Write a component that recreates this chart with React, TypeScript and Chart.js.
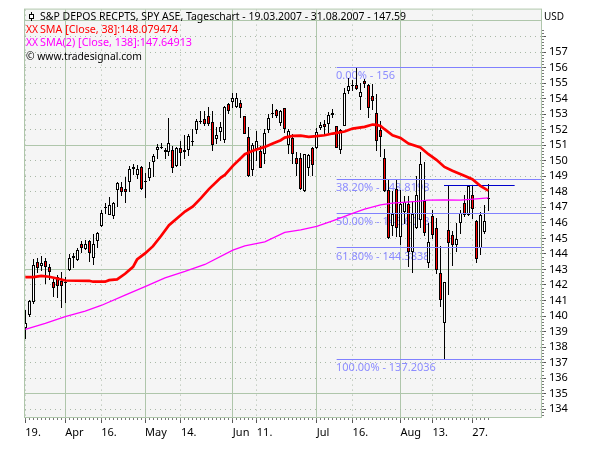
import React, { useEffect, useRef } from "react";
import { Chart, registerables } from "chart.js";

Chart.register(...registerables);

const opens = [139.2,140.06,140.92,143.45,143.24,143.54,143.13,142.16,142.53,142.25,142.15,142.96,143.71,143.6,144.67,144.31,144.82,143.71,144.84,145.81,146.93,146.52,146.46,148.13,148.32,148.21,148.66,149.46,149.07,149.61,148.65,148.88,149.89,150.68,150.85,150.53,150.57,150.68,149.67,150.81,150.68,150.7,151.26,151.96,152.5,152.67,152.86,152.5,151.43,151.88,151.34,153.64,153.81,153.47,153.72,152.86,151.54,149.41,150.74,150.64,150.42,151.96,153.02,153.25,152.46,153.42,151.02,151.45,150.16,150.16,148.06,149.56,150.85,150.79,152.09,152.35,152.35,153.1,152.22,150.68,152.26,154.49,154.84,154.88,154.13,155.14,154.88,154.17,153.06,151.99,150.16,148.11,145.8,148.17,145.1,146.67,147.2,144.14,145.7,146.2,147.42,143.4,146.46,145.7,142.74,139.57,145.53,145.2,144.55,145.99,147.3,146.48,147.81,146.13,144.38,145.38,147.55];
const highs = [140.38,141.03,143.66,143.71,143.88,143.71,143.34,142.38,142.64,142.81,142.53,144.0,144.03,144.41,144.84,144.89,144.91,145.3,145.42,146.82,147.31,147.68,147.36,148.6,148.6,148.92,149.63,149.78,149.71,149.67,149.2,149.95,150.46,151.1,151.17,150.85,152.74,150.96,150.89,151.28,151.66,151.71,152.03,152.67,153.2,153.2,153.47,153.21,152.18,152.52,153.53,153.74,154.34,154.34,153.89,152.89,152.18,151.13,151.92,150.96,152.03,153.04,153.64,153.32,153.25,153.42,152.03,151.71,150.53,150.5,150.42,150.42,150.89,152.09,152.5,152.61,153.14,153.32,152.26,152.03,154.71,155.35,155.18,155.97,155.03,155.29,154.97,154.92,154.28,152.56,150.74,148.81,148.06,148.8,148.1,147.74,147.7,147.42,149.03,150.53,149.95,146.0,146.8,146.3,144.5,142.2,148.36,145.47,146.0,146.8,147.77,148.42,148.41,146.2,146.7,147.14,148.48];
const lows = [138.52,139.96,140.77,142.74,142.9,142.04,142.31,141.24,141.18,140.53,140.86,142.91,143.11,143.54,144.09,144.24,143.49,143.28,144.35,145.75,146.56,146.52,146.28,146.99,147.74,147.25,147.96,149.07,148.81,148.13,147.57,148.71,148.96,150.14,150.74,150.1,150.31,149.24,149.61,149.67,150.1,150.31,150.96,151.71,152.35,152.25,152.24,150.64,151.06,151.28,151.17,153.0,153.42,153.42,152.78,151.71,148.98,149.03,149.99,149.5,149.78,151.81,152.78,152.78,152.25,151.81,150.46,149.78,149.03,148.1,148.0,149.03,149.03,150.74,151.96,151.56,151.81,152.74,150.81,150.46,152.22,154.32,154.5,154.54,153.25,154.67,152.78,153.25,150.64,150.21,147.96,144.95,145.17,145.1,144.56,145.92,143.17,142.79,145.6,145.7,145.17,143.1,144.95,142.7,140.6,137.2,141.35,143.21,144.14,145.26,146.37,146.42,146.27,143.43,143.92,145.3,146.76];
const closes = [139.57,140.96,143.28,143.11,143.41,143.17,142.85,141.82,141.95,141.95,142.2,143.71,143.86,144.24,144.39,144.61,144.03,144.67,145.32,146.63,146.99,147.16,147.27,148.56,148.0,148.0,149.46,149.59,149.46,148.17,148.7,149.52,150.31,150.89,150.87,150.68,151.13,149.52,150.81,150.49,150.53,151.6,151.3,152.56,152.55,152.35,152.35,151.0,151.64,152.18,153.47,153.21,154.02,154.02,153.42,151.75,149.03,151.02,151.3,149.56,151.81,152.78,153.06,152.86,153.21,152.03,151.92,150.46,149.78,148.21,150.42,150.38,149.74,151.88,152.31,152.14,152.93,152.95,150.85,151.96,154.34,154.82,154.88,154.64,154.43,154.97,153.42,153.85,151.24,151.54,148.02,145.02,146.6,145.7,147.2,147.36,144.14,146.56,147.78,149.78,145.32,144.77,145.2,142.96,141.03,142.16,144.71,144.56,144.94,146.63,146.53,148.37,146.91,143.7,146.5,146.13,147.59];

const sma38Days = [0,2,4,6,8,10,16,17,20,21,23,25,27,28,30,32,34,36,40,42,44,46,49,50,52,55,57,60,62,64,65,67,69,71,73,75,77,80,82,85,87,88,89,90,92,94,96,99,101,103,105,107,110,112,114,116];
const sma38Values = [142.51,142.51,142.59,142.53,142.42,142.29,142.27,142.21,142.21,142.31,142.36,142.72,143.17,143.64,144.03,144.5,145.15,145.85,146.73,147.06,147.59,148.17,148.92,149.09,149.67,150.42,150.64,150.89,151.11,151.32,151.49,151.6,151.62,151.54,151.58,151.64,151.75,151.88,152.07,152.18,152.33,152.31,152.24,152.03,151.64,151.47,151.11,150.85,150.42,150.06,149.6,149.35,149.03,148.81,148.38,148.08];
const sma138Days = [0,5,10,15,19,25,30,35,40,45,52,55,60,65,69,73,77,82,85,89,92,98,101,105,109,113,116];
const sma138Values = [139.14,139.53,139.96,140.32,140.68,141.35,141.89,142.46,142.87,143.32,144.24,144.52,144.78,145.38,145.55,145.77,146.13,146.61,146.88,147.16,147.27,147.38,147.46,147.48,147.46,147.55,147.61];

const fibLevels = [156, 148.8198, 146.6018, 144.3838, 137.2036];
const fibLabels = ["0.00% - 156", "38.20% - 148.8198", "50.00% - 146.6018", "61.80% - 144.3838", "100.00% - 137.2036"];
const fibStartDay = 78;
const fibEndDay = 129.2;
const channelLevel = 148.42;
const channelDays = [104.9, 122.6];

const dateTickDays = [0, 10, 19, 30, 39, 52, 58, 73, 82, 94, 102, 112];
const dateTickLabels = ["19.", "Apr", "16.", "May", "14.", "Jun", "11.", "Jul", "16.", "Aug", "13.", "27."];
const monthDays = [10, 30, 52, 73, 94];
const majorPrices = [135, 143, 151, 159];
const priceTicks = [134,135,136,137,138,139,140,141,142,143,144,145,146,147,148,149,150,151,152,153,154,155,156,157,158,159];

const titleRows = [
  { x: 40, y: 17, w: 366, color: "#000000", text: "S&P DEPOS RECPTS, SPY ASE, Tageschart - 19.03.2007 - 31.08.2007 - 147.59" },
  { x: 40, y: 30, w: 138, color: "#ff0000", text: "SMA [Close, 38]:148.079474" },
  { x: 40, y: 43, w: 152, color: "#ff00ff", text: "SMA(2) [Close, 138]:147.64913" },
  { x: 26, y: 57, w: 116, color: "#000000", text: "© www.tradesignal.com" },
];

const FAMILY = '"Noto Sans", sans-serif';
const FONT = `11px ${FAMILY}`;
const GRID = "#afc6ab";
const DOT = "#a9b8a6";
const X_MIN = -0.075;
const X_MAX = 129.2;
const Y_MIN = 133.5;
const Y_MAX = 159.73;

const allDays = opens.map((_, i) => i);
const wicks = allDays.map((i) => ({ x: i, y: [lows[i], highs[i]] }));
const upBodies = allDays.filter((i) => closes[i] >= opens[i]).map((i) => ({ x: i, y: [opens[i], closes[i]] }));
const downBodies = allDays.filter((i) => closes[i] < opens[i]).map((i) => ({ x: i, y: [closes[i], opens[i]] }));

const snapPlugin = {
  id: "snap",
  afterDatasetsUpdate(chart: any) {
    chart.data.datasets.forEach((ds: any, idx: number) => {
      const meta = chart.getDatasetMeta(idx);
      if (meta.type === "bar") {
        meta.data.forEach((el: any) => {
          el.x = Math.floor(el.x) + 0.5;
          let top = Math.round(Math.min(el.y, el.base));
          let bottom = Math.round(Math.max(el.y, el.base));
          if (bottom === top) bottom = top + 1;
          el.y = top;
          el.base = bottom;
        });
      } else if (ds.flatLine) {
        meta.data.forEach((el: any) => {
          el.y = Math.floor(el.y) + 0.5;
        });
      }
    });
  },
};

const framePlugin = {
  id: "frame",
  beforeDraw(chart: any) {
    const { ctx, chartArea: a } = chart;
    ctx.save();
    ctx.fillStyle = "#ffffff";
    ctx.fillRect(0, 0, chart.width, chart.height);
    ctx.fillStyle = "#f5f5f5";
    ctx.fillRect(a.left, a.top, a.right - a.left, a.bottom - a.top);
    ctx.restore();
  },
  beforeDatasetsDraw(chart: any) {
    const { ctx, chartArea: a, scales } = chart;
    ctx.save();
    ctx.strokeStyle = GRID;
    ctx.lineWidth = 1;
    ctx.strokeRect(a.left - 0.5, a.top - 0.5, a.right - a.left + 1, a.bottom - a.top + 1);
    ctx.font = FONT;
    ctx.textBaseline = "middle";
    ctx.textAlign = "left";
    ctx.fillStyle = "#8c8cff";
    fibLevels.forEach((lvl, i) => {
      ctx.fillText(fibLabels[i], 336, scales.y.getPixelForValue(lvl) + 8.5);
    });
    ctx.restore();
  },
  afterDraw(chart: any) {
    const { ctx } = chart;
    ctx.save();
    ctx.font = FONT;
    ctx.textBaseline = "middle";
    ctx.textAlign = "left";
    titleRows.forEach((r) => {
      ctx.fillStyle = r.color;
      ctx.fillText(r.text, r.x, r.y, r.w);
    });
    ctx.fillStyle = "#ff0000";
    ctx.fillText("XX", 26, 30, 12);
    ctx.fillStyle = "#ff00ff";
    ctx.fillText("XX", 26, 43, 12);
    ctx.fillStyle = "#000000";
    ctx.fillText("USD", 544, 17, 20);
    ctx.strokeStyle = "#000000";
    ctx.lineWidth = 1;
    ctx.beginPath();
    ctx.moveTo(31.5, 12);
    ctx.lineTo(31.5, 21);
    ctx.stroke();
    ctx.fillStyle = "#ffffff";
    ctx.fillRect(29.5, 14.5, 4, 4);
    ctx.strokeRect(29.5, 14.5, 4, 4);
    ctx.restore();
  },
};

const bodyStyle = {
  type: "bar",
  barThickness: 3,
  borderWidth: 1,
  borderColor: "#000000",
  borderSkipped: false,
  inflateAmount: 0,
  grouped: false,
  order: 5,
};

export default function App() {
  const ref = useRef<HTMLCanvasElement | null>(null);
  useEffect(() => {
    const chart = new Chart(ref.current as any, {
      data: {
        datasets: [
          { type: "line", label: "SMA 38", data: sma38Days.map((d, i) => ({ x: d, y: sma38Values[i] })), borderColor: "#ff0000", borderWidth: 2.7, pointRadius: 0, tension: 0, order: 1 },
          { type: "line", label: "SMA 138", data: sma138Days.map((d, i) => ({ x: d, y: sma138Values[i] })), borderColor: "#ff00ff", borderWidth: 1.3, pointRadius: 0, tension: 0, order: 2 },
          ...fibLevels.map((lvl, i) => ({ type: "line", label: fibLabels[i], flatLine: true, data: [{ x: fibStartDay, y: lvl }, { x: fibEndDay, y: lvl }], borderColor: "#8080ff", borderWidth: 1, pointRadius: 0, order: 3 })),
          { type: "line", label: "Level", flatLine: true, data: channelDays.map((d) => ({ x: d, y: channelLevel })), borderColor: "#0000cc", borderWidth: 1, pointRadius: 0, order: 3 },
          { ...bodyStyle, label: "Up", data: upBodies, backgroundColor: "#ffffff" },
          { ...bodyStyle, label: "Down", data: downBodies, backgroundColor: "#ff0000" },
          { type: "bar", label: "High-Low", data: wicks, backgroundColor: "#000000", borderWidth: 0, barThickness: 1, inflateAmount: 0, grouped: false, order: 6 },
        ],
      } as any,
      options: {
        responsive: false,
        animation: false,
        devicePixelRatio: 1,
        layout: { padding: { left: 25, top: 9, right: 0, bottom: 0 } },
        plugins: { legend: { display: false }, tooltip: { enabled: false }, title: { display: false } },
        scales: {
          x: {
            type: "linear",
            position: "bottom",
            offset: false,
            min: X_MIN,
            max: X_MAX,
            weight: 0,
            afterBuildTicks: (s: any) => { s.ticks = dateTickDays.map((value) => ({ value })); },
            afterFit: (s: any) => { s.height = 33; },
            ticks: {
              autoSkip: false,
              maxRotation: 0,
              align: "start",
              padding: 3,
              color: "#000000",
              font: { family: FAMILY, size: 11 },
              callback: (v: any) => { const i = dateTickDays.indexOf(v); return i >= 0 ? dateTickLabels[i] : ""; },
            },
            grid: {
              offset: false,
              color: (c: any) => (monthDays.includes(c.tick?.value) ? GRID : DOT),
              lineWidth: 1,
              tickLength: 6,
              tickColor: "#555555",
            },
            border: {
              display: false,
              dash: (c: any) => (monthDays.includes(c.tick?.value) ? [] : [1, 4]),
            },
          },
          xMinor: {
            type: "linear",
            position: "bottom",
            offset: false,
            min: X_MIN,
            max: X_MAX,
            weight: -1,
            afterBuildTicks: (s: any) => { s.ticks = allDays.map((value) => ({ value })); },
            afterFit: (s: any) => { s.height = 0; },
            ticks: { autoSkip: false, maxRotation: 0, callback: () => "", padding: 0 },
            grid: { offset: false, drawOnChartArea: false, tickLength: 3, tickColor: "#777777" },
            border: { display: false },
          },
          y: {
            type: "linear",
            position: "right",
            min: Y_MIN,
            max: Y_MAX,
            weight: 0,
            afterBuildTicks: (s: any) => { s.ticks = priceTicks.map((value) => ({ value })); },
            afterFit: (s: any) => { s.width = 59; },
            ticks: {
              autoSkip: false,
              padding: 3,
              color: "#000000",
              font: { family: FAMILY, size: 11 },
              callback: (v: any) => (v <= 157 ? String(v) : ""),
            },
            grid: {
              color: (c: any) => (majorPrices.includes(c.tick?.value) ? GRID : DOT),
              lineWidth: 1,
              tickLength: 5,
              tickColor: (c: any) => (c.tick?.value > 158 ? "rgba(0,0,0,0)" : "#555555"),
            },
            border: {
              display: false,
              dash: (c: any) => (majorPrices.includes(c.tick?.value) ? [] : [1, 4]),
            },
          },
          yMinor: {
            type: "linear",
            position: "right",
            min: Y_MIN,
            max: Y_MAX,
            weight: -1,
            afterBuildTicks: (s: any) => {
              const out: any[] = [];
              for (let t = 1335; t <= 1584; t += 2) out.push({ value: t / 10 + 0.1 });
              s.ticks = out;
            },
            afterFit: (s: any) => { s.width = 0; },
            ticks: { autoSkip: false, callback: () => "", padding: 0 },
            grid: { drawOnChartArea: false, tickLength: 3, tickColor: "#777777" },
            border: { display: false },
          },
        },
      } as any,
      plugins: [snapPlugin, framePlugin] as any,
    });
    return () => chart.destroy();
  }, []);
  return (
    <canvas
      ref={ref}
      width={600}
      height={450}
      style={{ position: "fixed", left: 0, top: 0, display: "block" }}
    />
  );
}
